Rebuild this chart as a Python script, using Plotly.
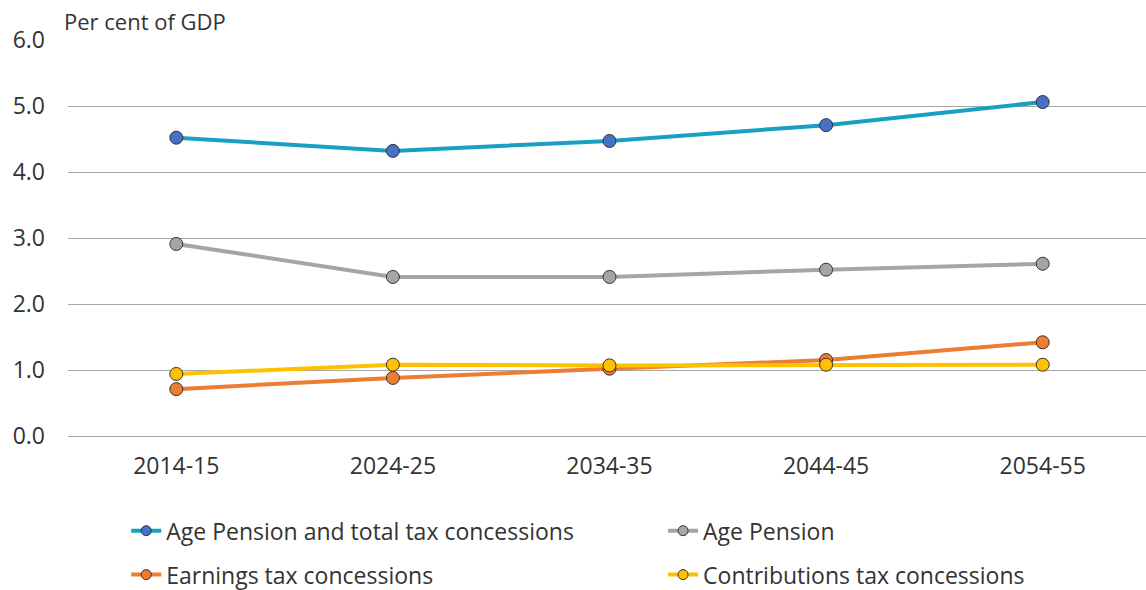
import plotly.graph_objects as go

categories = ["2014-15", "2024-25", "2034-35", "2044-45", "2054-55"]
age_pension_total = [4.52, 4.32, 4.47, 4.71, 5.06]
age_pension = [2.91, 2.41, 2.41, 2.52, 2.61]
earnings_tax = [0.71, 0.88, 1.02, 1.15, 1.42]
contributions_tax = [0.94, 1.08, 1.07, 1.08, 1.08]
y_ticks = [0, 1, 2, 3, 4, 5, 6]
y_tick_labels = ["0.0", "1.0", "2.0", "3.0", "4.0", "5.0", "6.0"]

series = [
    ("Age Pension and total tax concessions", age_pension_total, "#17A0C2", "#4472C4", "legend", "g1"),
    ("Age Pension", age_pension, "#A5A5A5", "#A5A5A5", "legend2", "g2"),
    ("Earnings tax concessions", earnings_tax, "#ED7D31", "#ED7D31", "legend", "g3"),
    ("Contributions tax concessions", contributions_tax, "#FFC000", "#FFC000", "legend2", "g4"),
]

FONT = "Open Sans"
TXT = "#333333"

fig = go.Figure()
for name, vals, lc, mc, lg, grp in series:
    fig.add_trace(go.Scatter(
        x=categories, y=vals, name=name, mode="lines+markers",
        line=dict(color=lc, width=4),
        marker=dict(color=mc, size=13, line=dict(color="#333333", width=1)),
        showlegend=False,
    ))
# legend entries (smaller markers as in the reference legend)
for name, vals, lc, mc, lg, grp in series:
    fig.add_trace(go.Scatter(
        x=[None], y=[None], name=name, mode="lines+markers",
        line=dict(color=lc, width=4),
        marker=dict(color=mc, size=10, line=dict(color="#333333", width=1)),
        legend=lg, legendgroup=grp, showlegend=True,
    ))

fig.update_layout(
    width=1146, height=590,
    margin=dict(l=68, r=0, t=40, b=154, autoexpand=False),
    plot_bgcolor="white", paper_bgcolor="white",
    font=dict(family=FONT, color=TXT, size=23),
    xaxis=dict(
        type="category", range=[-0.5, 4.477],
        showgrid=False, showline=False, zeroline=False,
        ticks="", tickfont=dict(size=23, family=FONT, color=TXT),
        ticklabelstandoff=14,
    ),
    yaxis=dict(
        range=[0, 6], tickvals=y_ticks, ticktext=y_tick_labels,
        showgrid=True, gridcolor="#A6A6A6", gridwidth=1,
        zeroline=True, zerolinecolor="#A6A6A6", zerolinewidth=1,
        showline=False, ticks="",
        tickfont=dict(size=23, family=FONT, color=TXT),
        ticklabelstandoff=22,
    ),
    legend=dict(
        x=0.054, y=-0.185, xanchor="left", yanchor="top",
        orientation="v", tracegroupgap=11,
        font=dict(size=23, family=FONT, color=TXT),
        bgcolor="rgba(0,0,0,0)", borderwidth=0,
    ),
    legend2=dict(
        x=0.552, y=-0.185, xanchor="left", yanchor="top",
        orientation="v", tracegroupgap=11,
        font=dict(size=23, family=FONT, color=TXT),
        bgcolor="rgba(0,0,0,0)", borderwidth=0,
    ),
    annotations=[dict(
        text="Per cent of GDP", xref="paper", yref="paper",
        x=-0.006, y=1.0, xanchor="left", yanchor="bottom", yshift=2,
        showarrow=False, font=dict(size=22, family=FONT, color=TXT),
    )],
)

fig.write_html("out.html")
